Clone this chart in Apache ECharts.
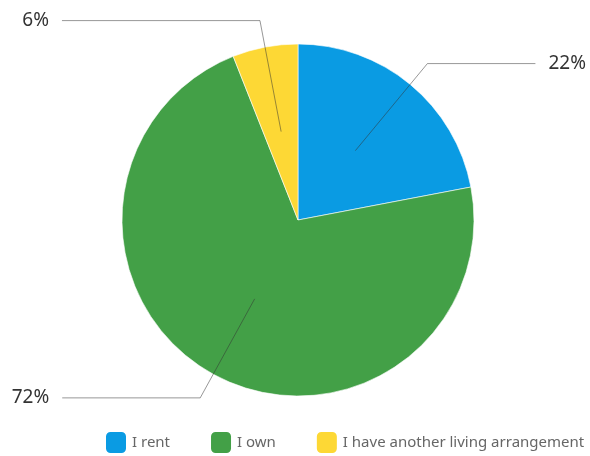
<!DOCTYPE html>
<html>
<head>
<meta charset="utf-8">
<script src="https://cdn.jsdelivr.net/npm/echarts@6/dist/echarts.min.js"></script>
<style>
  html, body { margin: 0; padding: 0; background: #fff; }
  #chart { width: 590px; height: 456px; }
</style>
</head>
<body>
<div id="chart"></div>
<script>
var categories = ['I rent', 'I own', 'I have another living arrangement'];
var shares = [22, 72, 6];
var colors = ['#0A9BE3', '#43A047', '#FDD835'];
var lineTails = [108, 138, 198];   // horizontal part of each label line

var chart = echarts.init(document.getElementById('chart'));

var pieData = categories.map(function (c, i) {
    return { name: c, value: shares[i], itemStyle: { color: colors[i] } };
});
// same values again, only to carry the labels (lines start inside the slices)
var labelData = categories.map(function (c, i) {
    return { name: c, value: shares[i], labelLine: { length2: lineTails[i] } };
});

var option = {
    animation: false,
    legend: {
        data: categories,
        left: 99,
        top: 425,
        icon: 'roundRect',
        itemWidth: 22,
        itemHeight: 23,
        itemGap: 39,
        itemTextGap: 5,
        textStyle: { color: '#666', fontSize: 15, fontFamily: 'Noto Sans' }
    },
    series: [
        {
            type: 'pie',
            z: 2,
            center: [298, 220],
            radius: 176,
            startAngle: 90,
            clockwise: true,
            data: pieData,
            label: { show: false },
            labelLine: { show: false },
            itemStyle: { borderColor: '#fff', borderWidth: 0.6 },
            emphasis: { disabled: true }
        },
        {
            type: 'pie',
            z: 6,
            center: [298, 220],
            radius: 90,
            startAngle: 90,
            clockwise: true,
            silent: true,
            avoidLabelOverlap: false,
            legendHoverLink: false,
            data: labelData,
            itemStyle: { color: 'rgba(0,0,0,0)' },
            label: {
                show: true,
                position: 'outside',
                formatter: '{c}%',
                color: '#333',
                fontSize: 19,
                fontFamily: 'Noto Sans',
                distanceToLabelLine: 13
            },
            labelLine: {
                show: true,
                length: 113,
                smooth: false,
                lineStyle: { color: 'rgba(50,50,50,0.5)', width: 1 }
            },
            emphasis: { disabled: true }
        }
    ]
};
chart.setOption(option);
</script>
</body>
</html>
